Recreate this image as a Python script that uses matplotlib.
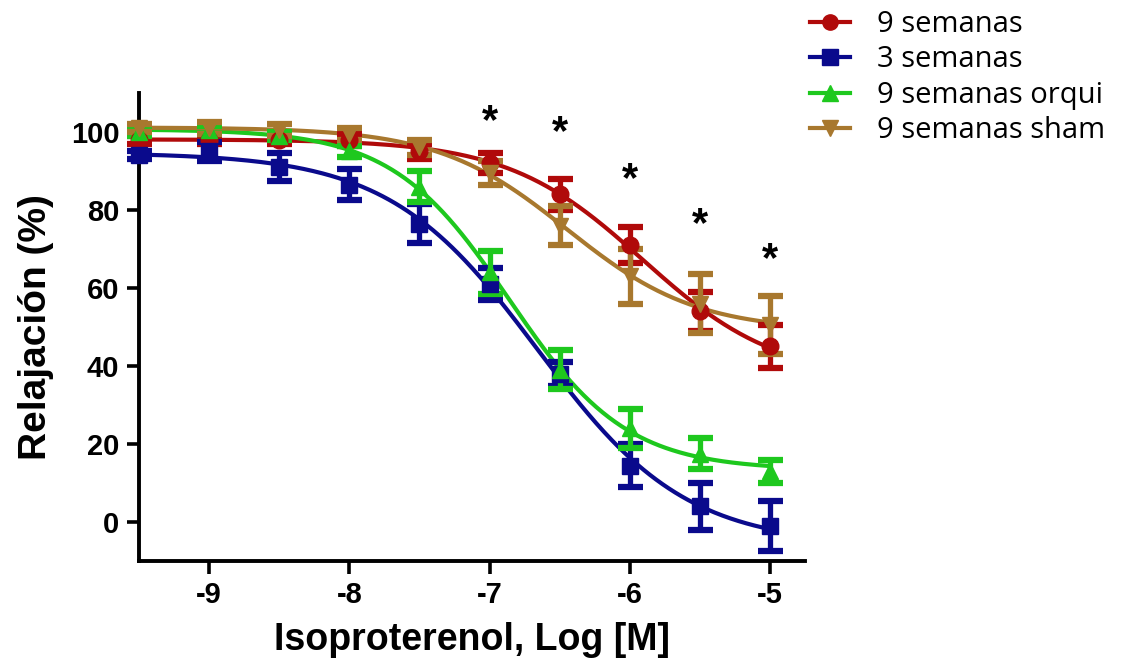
import matplotlib
matplotlib.use("Agg")
import matplotlib.pyplot as plt
import numpy as np

plt.rcParams["axes.unicode_minus"] = False

# ---------------------------------------------------------------
# Datos
# ---------------------------------------------------------------
log_iso = [-9.5, -9.0, -8.5, -8.0, -7.5, -7.0, -6.5, -6.0, -5.5, -5.0]

sem9 = [98, 98, 98, 98, 95, 92, 84, 71, 54, 45]
sem9_err = [1, 1, 1, 1.5, 2, 2.5, 4, 4.5, 5, 5.5]

sem3 = [94, 95, 91, 86.5, 76.5, 61, 38, 14.5, 4, -1]
sem3_err = [1, 2.5, 3.5, 4, 5, 4, 3, 5.5, 6, 6.5]

orqui = [100, 100.5, 99, 95, 86, 64, 39, 24, 17.5, 13]
orqui_err = [1, 1, 1, 1.5, 4, 5.5, 5, 5, 4, 3]

sham = [101, 101, 100.5, 99.5, 96, 89.5, 76, 63, 56, 50.5]
sham_err = [1, 1.5, 1.5, 1.5, 2, 3, 5, 7, 7.5, 7.5]

star_x = [-7.0, -6.5, -6.0, -5.5, -5.0]
star_y = [102.6, 99.7, 87.7, 76.2, 67.2]

labels = ["9 semanas", "3 semanas", "9 semanas orqui", "9 semanas sham"]
colors = ["#B00A0A", "#0A0A8C", "#1EC81E", "#A8782E"]
markers = ["o", "s", "^", "v"]


# ---------------------------------------------------------------
# Ajuste sigmoide (4 parámetros) por búsqueda en rejilla
# ---------------------------------------------------------------
def fit_sigmoid(x, y):
    x = np.asarray(x, float)
    y = np.asarray(y, float)
    ec, hill = np.meshgrid(np.linspace(-8.5, -4.5, 401), np.linspace(0.3, 2.5, 111))
    ec = ec.ravel()[:, None]
    hill = hill.ravel()[:, None]
    s = 1.0 / (1.0 + 10.0 ** ((x[None, :] - ec) * hill))
    u = 1.0 - s
    a = (u * u).sum(1)
    b = (u * s).sum(1)
    c = (s * s).sum(1)
    d1 = (u * y).sum(1)
    d2 = (s * y).sum(1)
    det = a * c - b * b
    bottom = (c * d1 - b * d2) / det
    top = (a * d2 - b * d1) / det
    sse = ((bottom[:, None] * u + top[:, None] * s - y) ** 2).sum(1)
    i = np.argmin(sse)
    return bottom[i], top[i], ec[i, 0], hill[i, 0]


def sigmoid(x, bottom, top, ec, hill):
    return bottom + (top - bottom) / (1.0 + 10.0 ** ((x - ec) * hill))


tick_font = ["Liberation Sans Narrow", "Liberation Sans", "DejaVu Sans"]

fig = plt.figure(figsize=(11.37, 6.68), dpi=100)
ax = fig.add_axes([0.1222, 0.160, 0.586, 0.701])

xx = np.linspace(-9.5, -5.0, 400)
series = [(sem9, sem9_err), (sem3, sem3_err), (orqui, orqui_err), (sham, sham_err)]
handles = []
for (y, e), col, mk, lab in zip(series, colors, markers, labels):
    p = fit_sigmoid(log_iso, y)
    ax.plot(xx, sigmoid(xx, *p), color=col, lw=3, zorder=3, clip_on=False)
    ax.errorbar(log_iso, y, yerr=e, fmt="none", ecolor=col, elinewidth=3.8,
                capsize=9, capthick=4.5, zorder=4, clip_on=False)
    ax.plot(log_iso, y, linestyle="none", marker=mk, color=col, ms=12,
            zorder=5, clip_on=False)
    h, = ax.plot([], [], color=col, lw=3, marker=mk, ms=11)
    handles.append(h)

for sx, sy in zip(star_x, star_y):
    ax.text(sx, sy, "*", ha="center", va="center", fontsize=30,
            fontweight="bold", color="black", family="Liberation Sans")

ax.set_xlim(-9.5, -4.75)
ax.set_ylim(-10, 110)
ax.set_xticks([-9, -8, -7, -6, -5])
ax.set_yticks([0, 20, 40, 60, 80, 100])

for side in ["top", "right"]:
    ax.spines[side].set_visible(False)
for side in ["left", "bottom"]:
    ax.spines[side].set_linewidth(2.8)

ax.tick_params(axis="both", direction="out", length=9, width=2.6, pad=5)
for lbl in ax.get_xticklabels() + ax.get_yticklabels():
    lbl.set_family(tick_font)
    lbl.set_fontweight("heavy")
    lbl.set_fontsize(21)

ax.set_xlabel("Isoproterenol, Log [M]", family=tick_font, fontweight="heavy",
              fontsize=27, labelpad=10)
ax.set_ylabel("Relajación (%)", family=["Liberation Sans", "DejaVu Sans"],
              fontweight="bold", fontsize=28, labelpad=12)

fig.legend(handles, labels, loc="upper left", bbox_to_anchor=(0.712, 0.985),
           frameon=False, prop={"family": "Open Sans", "size": 21},
           handlelength=1.4, handletextpad=0.9, labelspacing=0.22,
           borderpad=0, borderaxespad=0)

fig.savefig("out.png", dpi=100)
